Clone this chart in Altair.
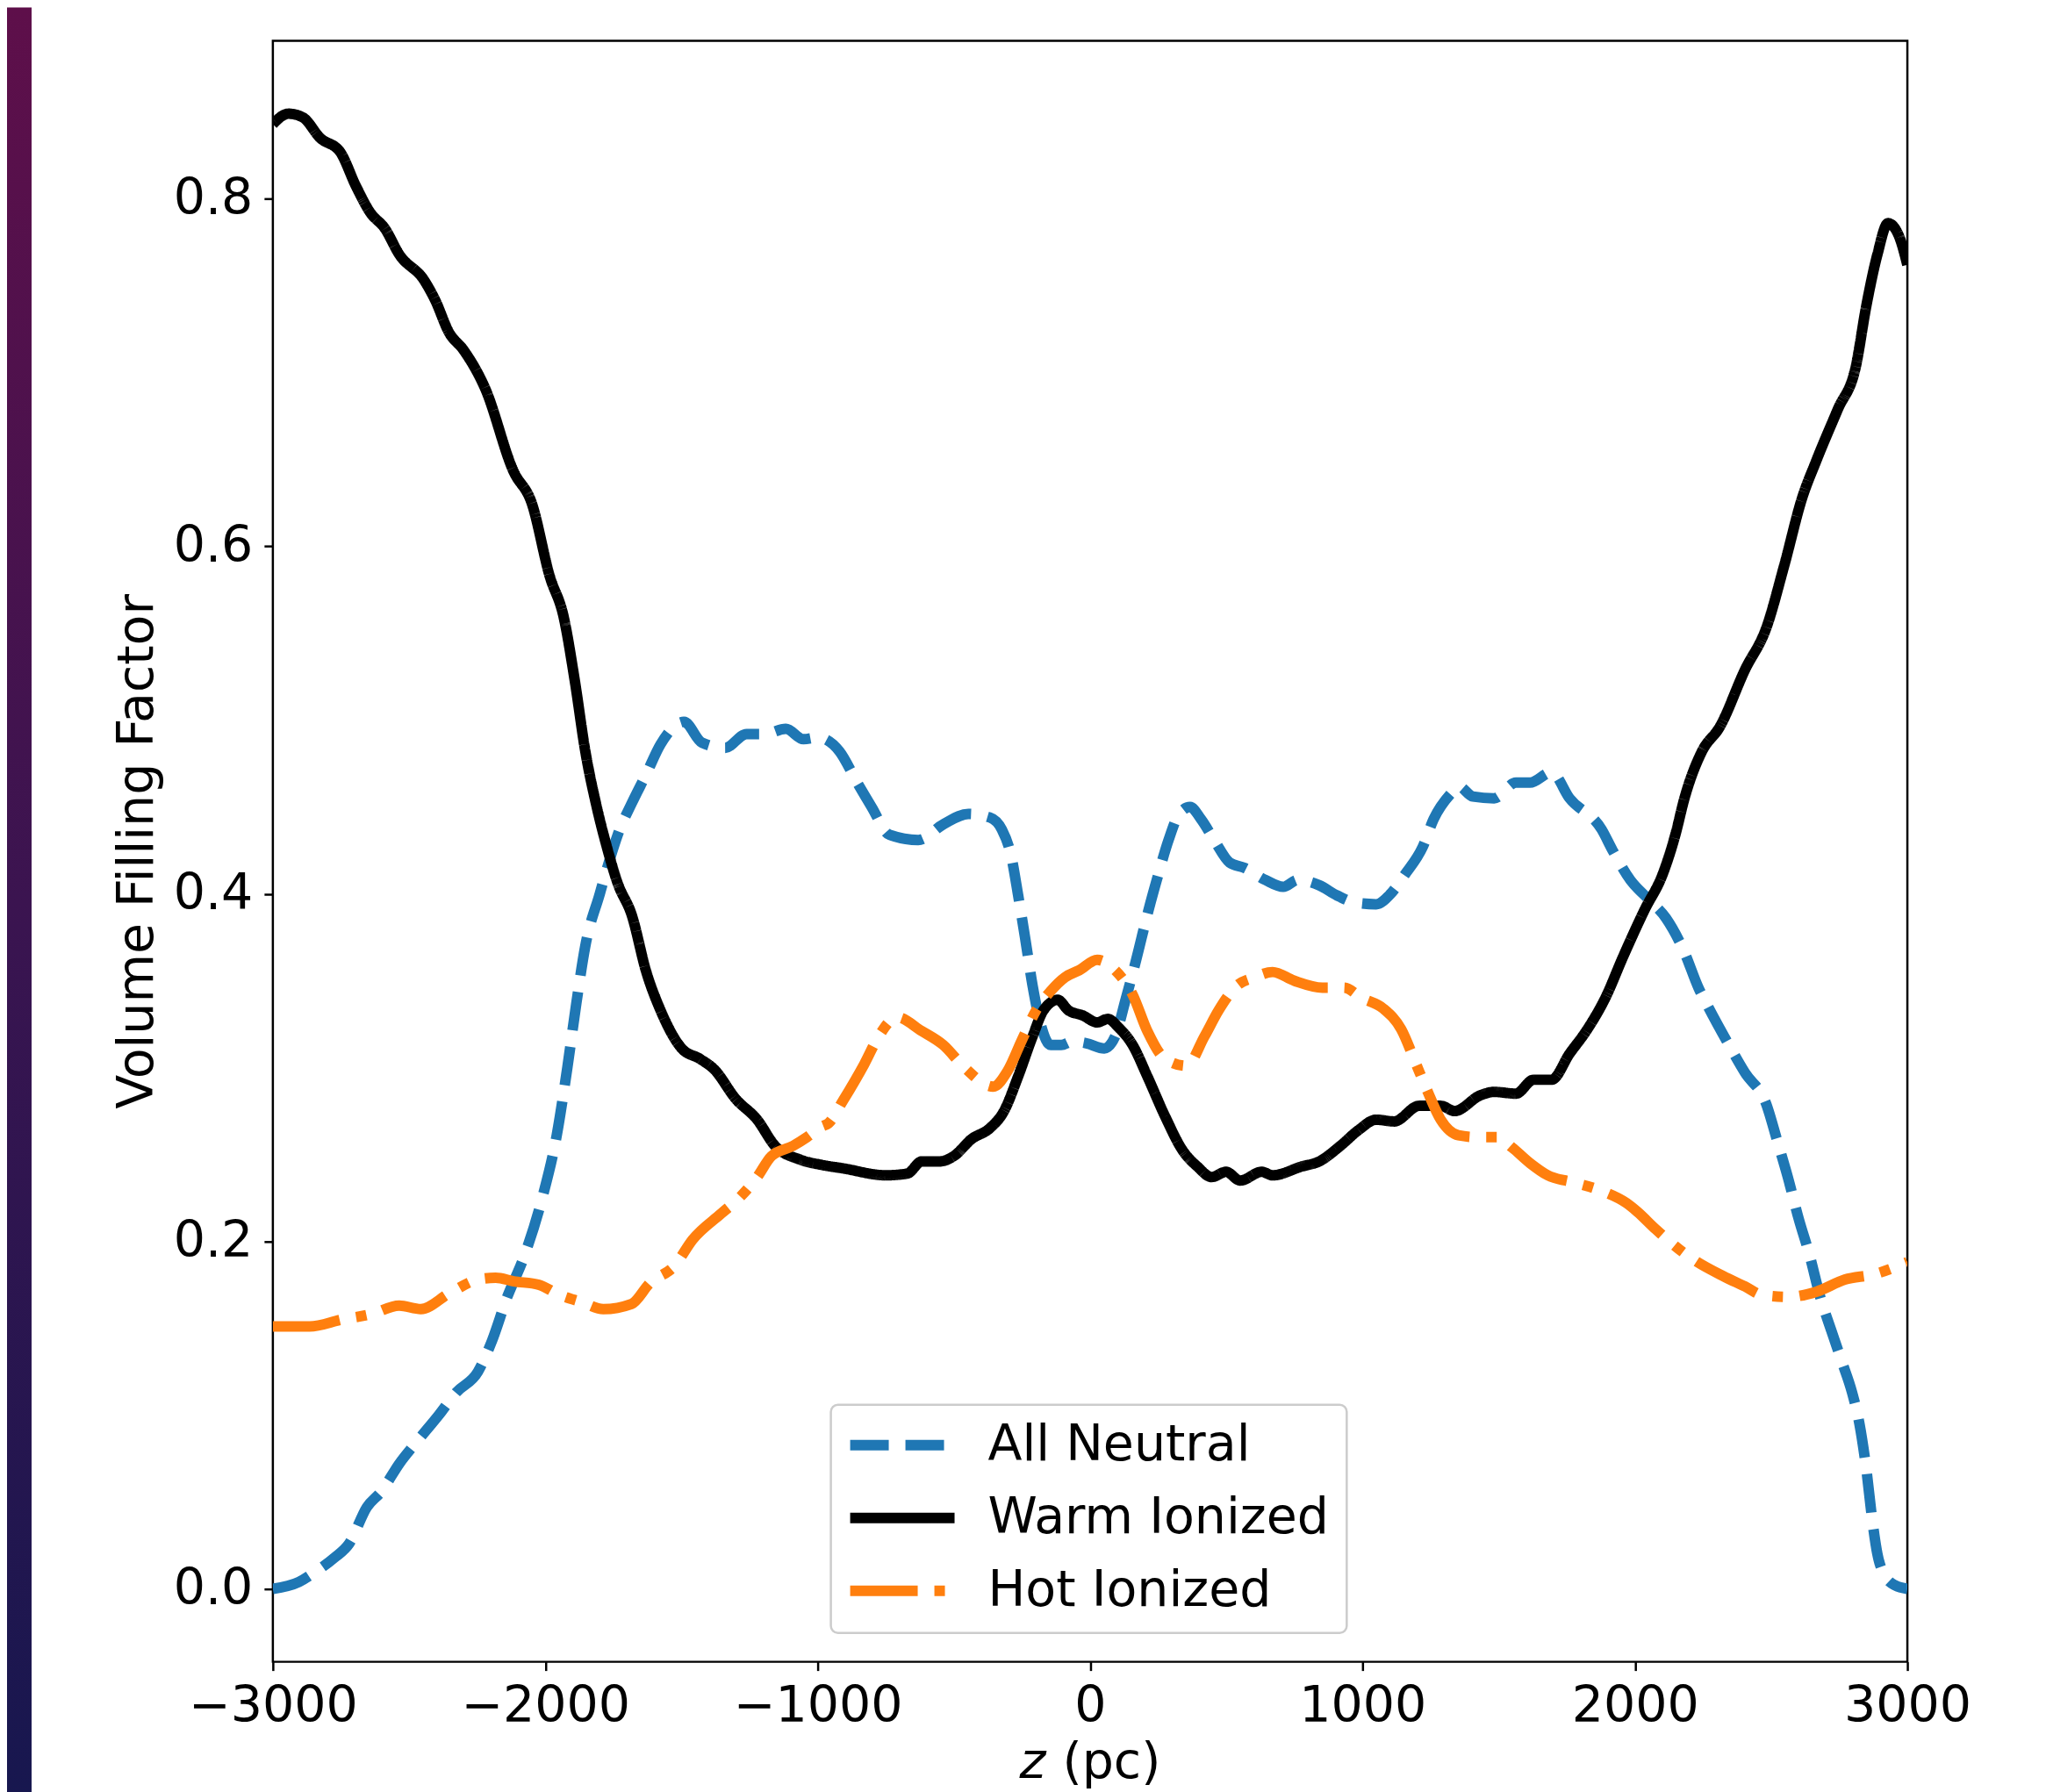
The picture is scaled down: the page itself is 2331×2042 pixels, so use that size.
import altair as alt
import pandas as pd

# ---------------- data ----------------
series_names = ["All Neutral", "Warm Ionized", "Hot Ionized"]
series_colors = ["#1f77b4", "#000000", "#ff7f0e"]
series_dashes = [[44, 19], [1, 0], [77, 19, 12, 19]]

neutral_z = [-3000, -2904, -2852, -2773, -2720, -2655, -2602, -2536, -2470, -2391,
             -2327, -2247, -2195, -2142, -2076, -2011, -1958, -1919, -1886, -1853,
             -1800, -1761, -1734, -1683, -1629, -1577, -1491, -1425, -1340, -1261,
             -1196, -1117, -1052, -1000, -920, -855, -802, -737, -631, -539,
             -447, -369, -324, -290, -264, -237, -211, -185, -145, -106,
             -66, -14, 52, 92, 130, 169, 210, 250, 288, 327,
             367, 407, 459, 512, 565, 643, 709, 762, 840, 907,
             971, 1050, 1103, 1155, 1221, 1261, 1326, 1352, 1405, 1483,
             1563, 1615, 1694, 1760, 1878, 1918, 1983, 2049, 2114, 2180,
             2233, 2272, 2338, 2404, 2482, 2522, 2561, 2601, 2641, 2680,
             2720, 2759, 2797, 2824, 2850, 2870, 2890, 2916, 2955, 3000]
neutral_v = [0.000, 0.004, 0.009, 0.018, 0.026, 0.047, 0.056, 0.072, 0.085, 0.100,
             0.113, 0.125, 0.143, 0.167, 0.192, 0.225, 0.261, 0.300, 0.337, 0.370,
             0.400, 0.421, 0.434, 0.452, 0.469, 0.486, 0.499, 0.487, 0.484, 0.492,
             0.492, 0.495, 0.489, 0.490, 0.482, 0.464, 0.450, 0.434, 0.431, 0.440,
             0.446, 0.444, 0.437, 0.422, 0.399, 0.373, 0.347, 0.327, 0.313, 0.313,
             0.315, 0.314, 0.311, 0.318, 0.339, 0.362, 0.388, 0.411, 0.431, 0.446,
             0.450, 0.443, 0.430, 0.418, 0.415, 0.408, 0.404, 0.408, 0.405, 0.399,
             0.395, 0.394, 0.400, 0.411, 0.427, 0.443, 0.458, 0.462, 0.456, 0.455,
             0.464, 0.464, 0.470, 0.455, 0.437, 0.425, 0.408, 0.397, 0.386, 0.367,
             0.346, 0.334, 0.315, 0.297, 0.279, 0.258, 0.237, 0.213, 0.192, 0.168,
             0.149, 0.131, 0.113, 0.095, 0.068, 0.041, 0.020, 0.008, 0.002, 0.000]

warm_z = [-3000, -2943, -2891, -2826, -2753, -2694, -2642, -2589, -2536, -2444,
          -2405, -2353, -2300, -2221, -2116, -2050, -1984, -1932, -1892, -1853,
          -1814, -1774, -1734, -1683, -1629, -1577, -1499, -1432, -1380, -1301,
          -1222, -1157, -1064, -986, -907, -750, -671, -618, -552, -501,
          -434, -369, -316, -264, -211, -171, -119, -80, -27, 26,
          65, 105, 156, 210, 275, 341, 394, 446, 499, 551,
          630, 670, 775, 841, 919, 985, 1050, 1116, 1208, 1287,
          1338, 1432, 1483, 1563, 1628, 1694, 1760, 1825, 1891, 1957,
          2036, 2101, 2150, 2180, 2246, 2311, 2404, 2482, 2548, 2614,
          2665, 2745, 2810, 2850, 2890, 2929, 2968, 3000]
warm_v = [0.843, 0.849, 0.847, 0.835, 0.827, 0.807, 0.792, 0.783, 0.768, 0.753,
          0.742, 0.723, 0.713, 0.691, 0.643, 0.625, 0.583, 0.559, 0.523, 0.482,
          0.452, 0.427, 0.406, 0.388, 0.355, 0.333, 0.311, 0.305, 0.299, 0.282,
          0.270, 0.255, 0.247, 0.244, 0.242, 0.238, 0.239, 0.246, 0.246, 0.249,
          0.259, 0.265, 0.275, 0.295, 0.318, 0.333, 0.339, 0.333, 0.330, 0.326,
          0.328, 0.323, 0.313, 0.295, 0.272, 0.252, 0.243, 0.237, 0.240, 0.235,
          0.240, 0.238, 0.243, 0.246, 0.255, 0.264, 0.270, 0.269, 0.278, 0.278,
          0.275, 0.284, 0.286, 0.285, 0.293, 0.293, 0.308, 0.322, 0.340, 0.364,
          0.391, 0.411, 0.435, 0.454, 0.482, 0.496, 0.529, 0.553, 0.589, 0.628,
          0.649, 0.679, 0.703, 0.739, 0.768, 0.786, 0.779, 0.762]

hot_z = [-3000, -2865, -2746, -2641, -2536, -2457, -2353, -2247, -2182, -2116,
         -2024, -1945, -1866, -1787, -1683, -1616, -1525, -1459, -1354, -1288,
         -1222, -1170, -1090, -1039, -986, -960, -907, -829, -776, -710,
         -618, -539, -461, -356, -303, -250, -198, -145, -92, -40,
         26, 92, 156, 210, 275, 354, 420, 472, 538, 604,
         670, 749, 853, 932, 998, 1076, 1142, 1194, 1234, 1287,
         1352, 1418, 1496, 1549, 1615, 1680, 1772, 1878, 1969, 2009,
         2076, 2166, 2220, 2324, 2404, 2469, 2563, 2666, 2771, 2877, 3000]
hot_v = [0.151, 0.151, 0.155, 0.158, 0.163, 0.161, 0.170, 0.178, 0.179, 0.177,
         0.175, 0.169, 0.165, 0.161, 0.164, 0.176, 0.186, 0.201, 0.216, 0.225,
         0.237, 0.249, 0.255, 0.260, 0.266, 0.268, 0.281, 0.302, 0.318, 0.329,
         0.321, 0.313, 0.300, 0.289, 0.298, 0.316, 0.333, 0.344, 0.352, 0.356,
         0.362, 0.356, 0.342, 0.321, 0.305, 0.301, 0.318, 0.333, 0.347, 0.352,
         0.355, 0.350, 0.346, 0.346, 0.340, 0.334, 0.322, 0.303, 0.288, 0.270,
         0.261, 0.260, 0.260, 0.254, 0.245, 0.238, 0.234, 0.229, 0.222, 0.217,
         0.207, 0.195, 0.189, 0.180, 0.174, 0.169, 0.168, 0.171, 0.178, 0.181, 0.188]

x_ticks = [-3000, -2000, -1000, 0, 1000, 2000, 3000]
y_ticks = [0.0, 0.2, 0.4, 0.6, 0.8]

# ---------------- build table ----------------
frames = []
for name, zs, vs in [(series_names[0], neutral_z, neutral_v),
                     (series_names[1], warm_z, warm_v),
                     (series_names[2], hot_z, hot_v)]:
    frames.append(pd.DataFrame({"z": zs, "v": vs, "series": name}))
df = pd.concat(frames, ignore_index=True)

FONT = "DejaVu Sans"
FS = 57
W, H = 1863, 1848

legend = alt.Legend(
    title=None, orient="none", legendX=636, legendY=1555, direction="vertical",
    symbolType="stroke", symbolSize=14161, symbolStrokeWidth=12, symbolOffset=-4,
    labelOffset=32, labelFontSize=FS, labelFont=FONT, labelColor="black",
    labelLimit=1000, clipHeight=52, rowPadding=26, padding=20,
    strokeColor="#cccccc", fillColor="rgba(255,255,255,0.8)", cornerRadius=8,
)

x_enc = alt.X("z:Q", scale=alt.Scale(domain=[-3000, 3000], nice=False, zero=False),
              axis=alt.Axis(values=x_ticks, format="d", title=None, labelFlush=False,
                            labelOverlap=False, labelLimit=1000, grid=False, domain=False))
y_enc = alt.Y("v:Q", scale=alt.Scale(domain=[-0.042, 0.891], nice=False, zero=False),
              axis=alt.Axis(values=y_ticks, format=".1f", title="Volume Filling Factor",
                            grid=False, domain=False, titlePadding=12, labelLimit=1000,
                            titleFontSize=FS, titleFont=FONT, titleFontWeight="normal",
                            titleColor="black"))

lines = alt.Chart(df).mark_line(strokeWidth=12, clip=True, strokeJoin="round",
                                interpolate="monotone").encode(
    x=x_enc,
    y=y_enc,
    color=alt.Color("series:N", scale=alt.Scale(domain=series_names, range=series_colors),
                    legend=legend),
    strokeDash=alt.StrokeDash("series:N", scale=alt.Scale(domain=series_names, range=series_dashes),
                              legend=legend),
    order=alt.Order("z:Q"),
)

# x-axis title with italic z
xt_z = alt.Chart(pd.DataFrame({"t": ["z"]})).mark_text(
    font=FONT, fontSize=FS, fontStyle="italic", align="left", baseline="alphabetic",
    color="black").encode(x=alt.value(851), y=alt.value(1980), text="t:N")
xt_pc = alt.Chart(pd.DataFrame({"t": ["(pc)"]})).mark_text(
    font=FONT, fontSize=FS, align="left", baseline="alphabetic",
    color="black").encode(x=alt.value(900), y=alt.value(1980), text="t:N")

# decorative gradient strip at the left edge
strip = alt.Chart(pd.DataFrame({"a": [0]})).mark_rect(
    color=alt.LinearGradient(
        gradient="linear",
        stops=[alt.GradientStop(offset=0, color="#5e0f4a"),
               alt.GradientStop(offset=0.5, color="#3b1450"),
               alt.GradientStop(offset=1, color="#17174f")],
        x1=0, x2=0, y1=0, y2=1)
).encode(x=alt.value(-303), x2=alt.value(-275), y=alt.value(-38), y2=alt.value(2000))

chart = alt.layer(strip, lines, xt_z, xt_pc).properties(
    width=W, height=H,
    autosize=alt.AutoSizeParams(type="none"),
    padding={"left": 303, "top": 38, "right": 150, "bottom": 150},
    background="white",
).configure_view(
    stroke="black", strokeWidth=2.5
).configure_axis(
    labelFont=FONT, labelFontSize=FS, labelColor="black",
    tickSize=10, tickWidth=2.5, tickColor="black", labelPadding=13,
).configure_legend(
    strokeWidth=2.5
)

chart.save("out.html", embed_options={"renderer": "svg", "actions": False})
